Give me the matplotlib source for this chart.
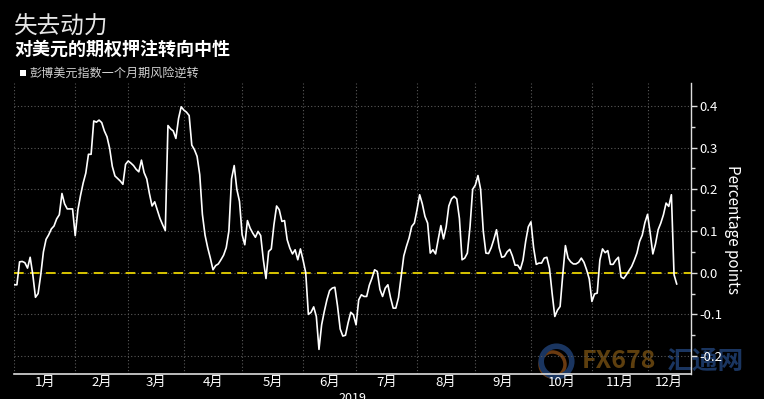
import numpy as np
import pandas as pd
import matplotlib
matplotlib.use('Agg')
import matplotlib.pyplot as plt
from matplotlib.lines import Line2D

# ---- data: one-month risk reversal on Bloomberg Dollar Index (daily, weekdays 2019) ----
jan = [-0.029, -0.029, 0.026, 0.027, 0.024, 0.011, 0.037, -0.005, -0.059, -0.050, -0.005, 0.050,
       0.080, 0.091, 0.105, 0.112, 0.129, 0.139, 0.190, 0.165, 0.153, 0.153, 0.153]
feb = [0.089, 0.150, 0.185, 0.215, 0.239, 0.284, 0.284, 0.364, 0.361, 0.366, 0.360, 0.340,
       0.326, 0.298, 0.255, 0.232, 0.226, 0.220, 0.212, 0.260]
mar = [0.268, 0.263, 0.257, 0.248, 0.242, 0.270, 0.240, 0.225, 0.190, 0.160, 0.170, 0.150,
       0.130, 0.115, 0.101, 0.353, 0.345, 0.340, 0.322, 0.370, 0.398]
apr = [0.390, 0.385, 0.377, 0.306, 0.295, 0.279, 0.235, 0.140, 0.090, 0.060, 0.035, 0.007,
       0.017, 0.021, 0.031, 0.042, 0.060, 0.100, 0.225, 0.257, 0.200, 0.171]
may = [0.091, 0.067, 0.125, 0.107, 0.095, 0.085, 0.099, 0.089, 0.031, -0.014, 0.051, 0.057,
       0.115, 0.160, 0.151, 0.123, 0.125, 0.079, 0.059, 0.045, 0.055, 0.031, 0.057]
jun = [0.030, 0.000, -0.100, -0.095, -0.082, -0.105, -0.184, -0.125, -0.093, -0.065, -0.043,
       -0.037, -0.035, -0.080, -0.135, -0.152, -0.150, -0.120, -0.095, -0.101]
jul = [-0.125, -0.065, -0.053, -0.057, -0.057, -0.030, -0.013, 0.007, 0.003, -0.040, -0.057,
       -0.037, -0.029, -0.060, -0.085, -0.085, -0.060, -0.010, 0.040, 0.063, 0.083, 0.111, 0.119]
aug = [0.151, 0.187, 0.165, 0.135, 0.119, 0.047, 0.055, 0.045, 0.080, 0.113, 0.081, 0.110,
       0.160, 0.177, 0.183, 0.177, 0.130, 0.031, 0.035, 0.047, 0.110, 0.200]
sep = [0.210, 0.233, 0.200, 0.100, 0.047, 0.046, 0.060, 0.080, 0.103, 0.060, 0.037, 0.039,
       0.050, 0.056, 0.040, 0.018, 0.018, 0.008, 0.030, 0.075, 0.110]
oct_ = [0.122, 0.060, 0.020, 0.023, 0.023, 0.035, 0.037, 0.010, -0.050, -0.105, -0.090, -0.081,
        -0.005, 0.065, 0.035, 0.026, 0.021, 0.021, 0.025, 0.035, 0.025, 0.007, -0.015]
nov = [-0.069, -0.051, -0.049, 0.030, 0.057, 0.048, 0.053, 0.020, 0.020, 0.030, 0.037, -0.010,
       -0.014, -0.005, 0.005, 0.015, 0.030, 0.047, 0.075, 0.090, 0.120]
dec = [0.140, 0.095, 0.045, 0.069, 0.103, 0.119, 0.139, 0.167, 0.159, 0.187, -0.005, -0.027]

values = jan + feb + mar + apr + may + jun + jul + aug + sep + oct_ + nov + dec
dates = pd.bdate_range('2019-01-01', periods=len(values))
month_labels = ['1月', '2月', '3月', '4月', '5月', '6月', '7月', '8月', '9月', '10月', '11月', '12月']
y_ticks = [-0.2, -0.1, 0.0, 0.1, 0.2, 0.3, 0.4]
y_tick_labels = ['-0.2', '-0.1', '0.0', '0.1', '0.2', '0.3', '0.4']
title = '失去动力'
subtitle = '对美元的期权押注转向中性'
legend_label = '彭博美元指数一个月期风险逆转'
y_label = 'Percentage points'
year_label = '2019'

plt.rcParams['font.family'] = ['Noto Sans CJK SC', 'DejaVu Sans']

W, H = 764, 399
fig = plt.figure(figsize=(W / 100, H / 100), dpi=100, facecolor='black')
ax = fig.add_axes([14 / W, 25 / H, 677 / W, 291 / H])
ax.set_facecolor('none')

# axis on weekday index
full_year = pd.bdate_range('2019-01-01', '2019-12-31')
idx_of = {d: i for i, d in enumerate(full_year)}
x = np.array([idx_of[d] for d in dates])
month_start = [int(np.where(full_year.month == m)[0][0]) for m in range(1, 13)]
x_right = 255.4
ax.set_xlim(-0.1, x_right)
ax.set_ylim(-0.243, 0.455)

grid_kw = dict(color='#5a5a5a', lw=0.8, ls=(0, (1, 2)), zorder=1)
for b in month_start:
    ax.axvline(b, **grid_kw)
for t in y_ticks:
    ax.axhline(t, **grid_kw)

ax.axhline(0, color='#d8c400', lw=1.4, dashes=(5, 3.2), zorder=2)
ax.plot(x, values, color='white', lw=1.2, zorder=3)

# y axis on the right
ax.yaxis.tick_right()
ax.set_yticks(y_ticks)
ax.set_yticklabels(y_tick_labels)
ax.set_yticks(np.arange(-0.15, 0.45, 0.1), minor=True)
ax.tick_params(axis='y', which='major', direction='out', length=4, width=1, color='#dddddd',
               labelcolor='white', labelsize=9.5, pad=2)
ax.tick_params(axis='y', which='minor', direction='out', length=3, width=1, color='#dddddd')

# month labels centred inside each month
bounds = month_start + [x_right]
centers = [(bounds[i] + bounds[i + 1]) / 2 for i in range(12)]
ax.set_xticks(centers)
ax.set_xticklabels(month_labels)
ax.tick_params(axis='x', length=0, labelcolor='white', labelsize=9.5, pad=1.5)

for s in ['top', 'left']:
    ax.spines[s].set_visible(False)
ax.spines['right'].set_color('#dddddd')
ax.spines['bottom'].set_color('#dddddd')
ax.spines['right'].set_linewidth(1)
ax.spines['bottom'].set_linewidth(1.2)

fig.text(733 / W, 1 - 230 / H, y_label, rotation=270, color='white', fontsize=11,
         ha='center', va='center')
fig.text(352 / W, 1 - 392 / H, year_label, color='white', fontsize=9, ha='center', va='top')

# titles and legend
fig.text(14 / W, 1 - 27 / H, title, color='#e6e6e6', fontsize=17, ha='left', va='center')
fig.text(14 / W, 1 - 49 / H, subtitle, color='white', fontsize=13, fontweight='bold',
         ha='left', va='center')
fig.patches.append(plt.Rectangle((20 / W, 1 - 76 / H), 6 / W, 6 / H, transform=fig.transFigure,
                                 facecolor='white', edgecolor='none'))
fig.text(29 / W, 1 - 73 / H, legend_label, color='#d0d0d0', fontsize=8.7, ha='left', va='center')

# watermark (behind the transparent axes)
fig.text(582 / W, 1 - 361 / H, 'FX678', color='#5e3f0e', fontsize=18, fontweight='bold',
         ha='left', va='center', zorder=-1)
fig.text(666 / W, 1 - 361 / H, '汇通网', color='#1a3560', fontsize=18.5, fontweight='bold',
         ha='left', va='center', zorder=-1)
fig.add_artist(Line2D([556 / W], [1 - 361 / H], transform=fig.transFigure, marker='o',
                      markersize=22, mfc='none', mec='#1a3560', mew=4, zorder=-1))
fig.add_artist(Line2D([552 / W], [1 - 364 / H], transform=fig.transFigure, marker='o',
                      markersize=18, mfc='none', mec='#6a3a10', mew=2.5, zorder=-1.5))

fig.savefig('out.png', dpi=100, facecolor='black')
